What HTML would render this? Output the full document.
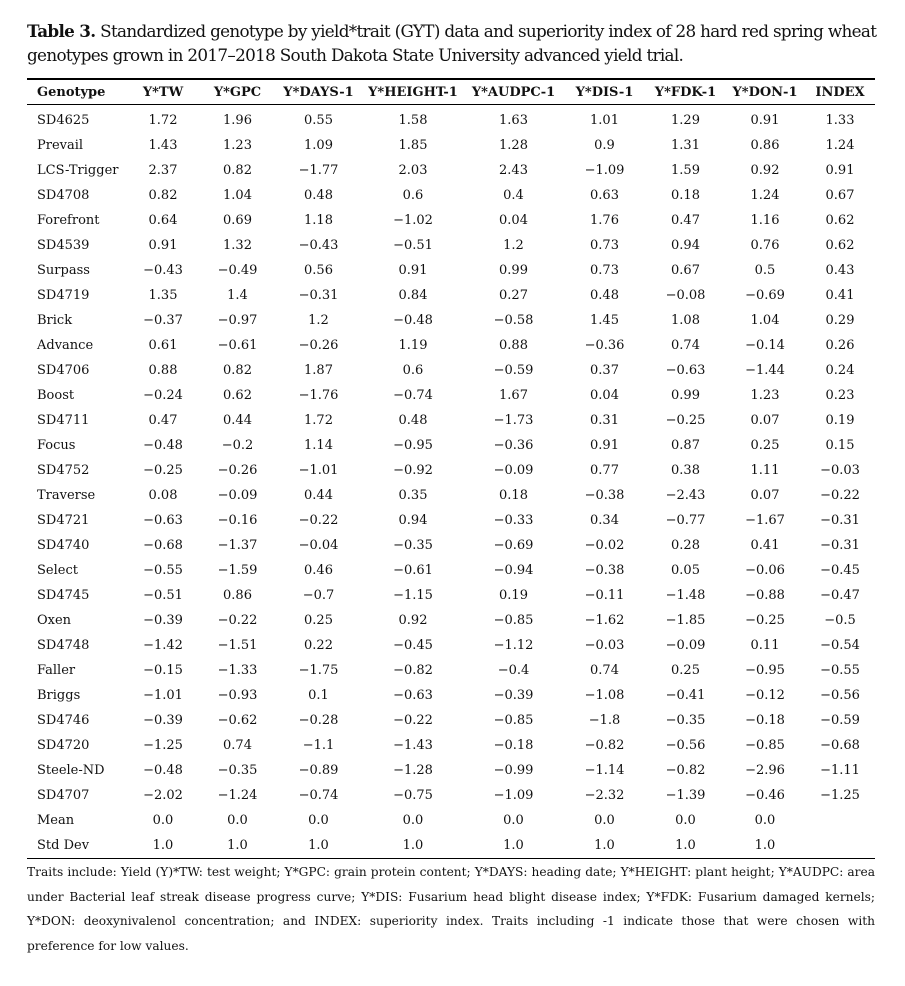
<!DOCTYPE html>
<html><head><meta charset="utf-8"><style>
body{margin:0;background:#fff;width:905px;height:986px;overflow:hidden;font-family:"DejaVu Serif","Liberation Serif",serif;color:#111}
.title{position:absolute;left:27px;top:19px;width:870px;font-size:16.8px;line-height:24px;letter-spacing:-0.68px;white-space:nowrap}
table{position:absolute;left:27px;top:78px;border-collapse:collapse;border-top:2px solid #000;border-bottom:1px solid #000;table-layout:fixed;width:848px;font-size:13px}
th,td{text-align:center;padding:0;height:25px;white-space:nowrap}
th{height:24px;border-bottom:1px solid #000;font-weight:bold}
td:first-child,th:first-child{text-align:left;padding-left:10px}
tr.f td{padding-top:3px;height:25px}
.note{position:absolute;left:27px;top:860px;width:848px;font-size:12.2px;line-height:24.7px;text-align:justify}
</style></head><body>
<div class="title"><b>Table 3.</b> Standardized genotype by yield*trait (GYT) data and superiority index of 28 hard red spring wheat<br>genotypes grown in 2017–2018 South Dakota State University advanced yield trial.</div>
<table>
<colgroup><col style="width:99px"><col style="width:74px"><col style="width:75px"><col style="width:87px"><col style="width:102px"><col style="width:99px"><col style="width:83px"><col style="width:79px"><col style="width:80px"><col style="width:70px"></colgroup>
<tr><th>Genotype</th><th>Y*TW</th><th>Y*GPC</th><th>Y*DAYS-1</th><th>Y*HEIGHT-1</th><th>Y*AUDPC-1</th><th>Y*DIS-1</th><th>Y*FDK-1</th><th>Y*DON-1</th><th>INDEX</th></tr>
<tr class="f"><td>SD4625</td><td>1.72</td><td>1.96</td><td>0.55</td><td>1.58</td><td>1.63</td><td>1.01</td><td>1.29</td><td>0.91</td><td>1.33</td></tr>
<tr><td>Prevail</td><td>1.43</td><td>1.23</td><td>1.09</td><td>1.85</td><td>1.28</td><td>0.9</td><td>1.31</td><td>0.86</td><td>1.24</td></tr>
<tr><td>LCS-Trigger</td><td>2.37</td><td>0.82</td><td>−1.77</td><td>2.03</td><td>2.43</td><td>−1.09</td><td>1.59</td><td>0.92</td><td>0.91</td></tr>
<tr><td>SD4708</td><td>0.82</td><td>1.04</td><td>0.48</td><td>0.6</td><td>0.4</td><td>0.63</td><td>0.18</td><td>1.24</td><td>0.67</td></tr>
<tr><td>Forefront</td><td>0.64</td><td>0.69</td><td>1.18</td><td>−1.02</td><td>0.04</td><td>1.76</td><td>0.47</td><td>1.16</td><td>0.62</td></tr>
<tr><td>SD4539</td><td>0.91</td><td>1.32</td><td>−0.43</td><td>−0.51</td><td>1.2</td><td>0.73</td><td>0.94</td><td>0.76</td><td>0.62</td></tr>
<tr><td>Surpass</td><td>−0.43</td><td>−0.49</td><td>0.56</td><td>0.91</td><td>0.99</td><td>0.73</td><td>0.67</td><td>0.5</td><td>0.43</td></tr>
<tr><td>SD4719</td><td>1.35</td><td>1.4</td><td>−0.31</td><td>0.84</td><td>0.27</td><td>0.48</td><td>−0.08</td><td>−0.69</td><td>0.41</td></tr>
<tr><td>Brick</td><td>−0.37</td><td>−0.97</td><td>1.2</td><td>−0.48</td><td>−0.58</td><td>1.45</td><td>1.08</td><td>1.04</td><td>0.29</td></tr>
<tr><td>Advance</td><td>0.61</td><td>−0.61</td><td>−0.26</td><td>1.19</td><td>0.88</td><td>−0.36</td><td>0.74</td><td>−0.14</td><td>0.26</td></tr>
<tr><td>SD4706</td><td>0.88</td><td>0.82</td><td>1.87</td><td>0.6</td><td>−0.59</td><td>0.37</td><td>−0.63</td><td>−1.44</td><td>0.24</td></tr>
<tr><td>Boost</td><td>−0.24</td><td>0.62</td><td>−1.76</td><td>−0.74</td><td>1.67</td><td>0.04</td><td>0.99</td><td>1.23</td><td>0.23</td></tr>
<tr><td>SD4711</td><td>0.47</td><td>0.44</td><td>1.72</td><td>0.48</td><td>−1.73</td><td>0.31</td><td>−0.25</td><td>0.07</td><td>0.19</td></tr>
<tr><td>Focus</td><td>−0.48</td><td>−0.2</td><td>1.14</td><td>−0.95</td><td>−0.36</td><td>0.91</td><td>0.87</td><td>0.25</td><td>0.15</td></tr>
<tr><td>SD4752</td><td>−0.25</td><td>−0.26</td><td>−1.01</td><td>−0.92</td><td>−0.09</td><td>0.77</td><td>0.38</td><td>1.11</td><td>−0.03</td></tr>
<tr><td>Traverse</td><td>0.08</td><td>−0.09</td><td>0.44</td><td>0.35</td><td>0.18</td><td>−0.38</td><td>−2.43</td><td>0.07</td><td>−0.22</td></tr>
<tr><td>SD4721</td><td>−0.63</td><td>−0.16</td><td>−0.22</td><td>0.94</td><td>−0.33</td><td>0.34</td><td>−0.77</td><td>−1.67</td><td>−0.31</td></tr>
<tr><td>SD4740</td><td>−0.68</td><td>−1.37</td><td>−0.04</td><td>−0.35</td><td>−0.69</td><td>−0.02</td><td>0.28</td><td>0.41</td><td>−0.31</td></tr>
<tr><td>Select</td><td>−0.55</td><td>−1.59</td><td>0.46</td><td>−0.61</td><td>−0.94</td><td>−0.38</td><td>0.05</td><td>−0.06</td><td>−0.45</td></tr>
<tr><td>SD4745</td><td>−0.51</td><td>0.86</td><td>−0.7</td><td>−1.15</td><td>0.19</td><td>−0.11</td><td>−1.48</td><td>−0.88</td><td>−0.47</td></tr>
<tr><td>Oxen</td><td>−0.39</td><td>−0.22</td><td>0.25</td><td>0.92</td><td>−0.85</td><td>−1.62</td><td>−1.85</td><td>−0.25</td><td>−0.5</td></tr>
<tr><td>SD4748</td><td>−1.42</td><td>−1.51</td><td>0.22</td><td>−0.45</td><td>−1.12</td><td>−0.03</td><td>−0.09</td><td>0.11</td><td>−0.54</td></tr>
<tr><td>Faller</td><td>−0.15</td><td>−1.33</td><td>−1.75</td><td>−0.82</td><td>−0.4</td><td>0.74</td><td>0.25</td><td>−0.95</td><td>−0.55</td></tr>
<tr><td>Briggs</td><td>−1.01</td><td>−0.93</td><td>0.1</td><td>−0.63</td><td>−0.39</td><td>−1.08</td><td>−0.41</td><td>−0.12</td><td>−0.56</td></tr>
<tr><td>SD4746</td><td>−0.39</td><td>−0.62</td><td>−0.28</td><td>−0.22</td><td>−0.85</td><td>−1.8</td><td>−0.35</td><td>−0.18</td><td>−0.59</td></tr>
<tr><td>SD4720</td><td>−1.25</td><td>0.74</td><td>−1.1</td><td>−1.43</td><td>−0.18</td><td>−0.82</td><td>−0.56</td><td>−0.85</td><td>−0.68</td></tr>
<tr><td>Steele-ND</td><td>−0.48</td><td>−0.35</td><td>−0.89</td><td>−1.28</td><td>−0.99</td><td>−1.14</td><td>−0.82</td><td>−2.96</td><td>−1.11</td></tr>
<tr><td>SD4707</td><td>−2.02</td><td>−1.24</td><td>−0.74</td><td>−0.75</td><td>−1.09</td><td>−2.32</td><td>−1.39</td><td>−0.46</td><td>−1.25</td></tr>
<tr><td>Mean</td><td>0.0</td><td>0.0</td><td>0.0</td><td>0.0</td><td>0.0</td><td>0.0</td><td>0.0</td><td>0.0</td><td></td></tr>
<tr><td>Std Dev</td><td>1.0</td><td>1.0</td><td>1.0</td><td>1.0</td><td>1.0</td><td>1.0</td><td>1.0</td><td>1.0</td><td></td></tr>
</table>
<div class="note">Traits include: Yield (Y)*TW: test weight; Y*GPC: grain protein content; Y*DAYS: heading date; Y*HEIGHT: plant height; Y*AUDPC: area under Bacterial leaf streak disease progress curve; Y*DIS: Fusarium head blight disease index; Y*FDK: Fusarium damaged kernels; Y*DON: deoxynivalenol concentration; and INDEX: superiority index. Traits including -1 indicate those that were chosen with preference for low values.</div>
</body></html>
